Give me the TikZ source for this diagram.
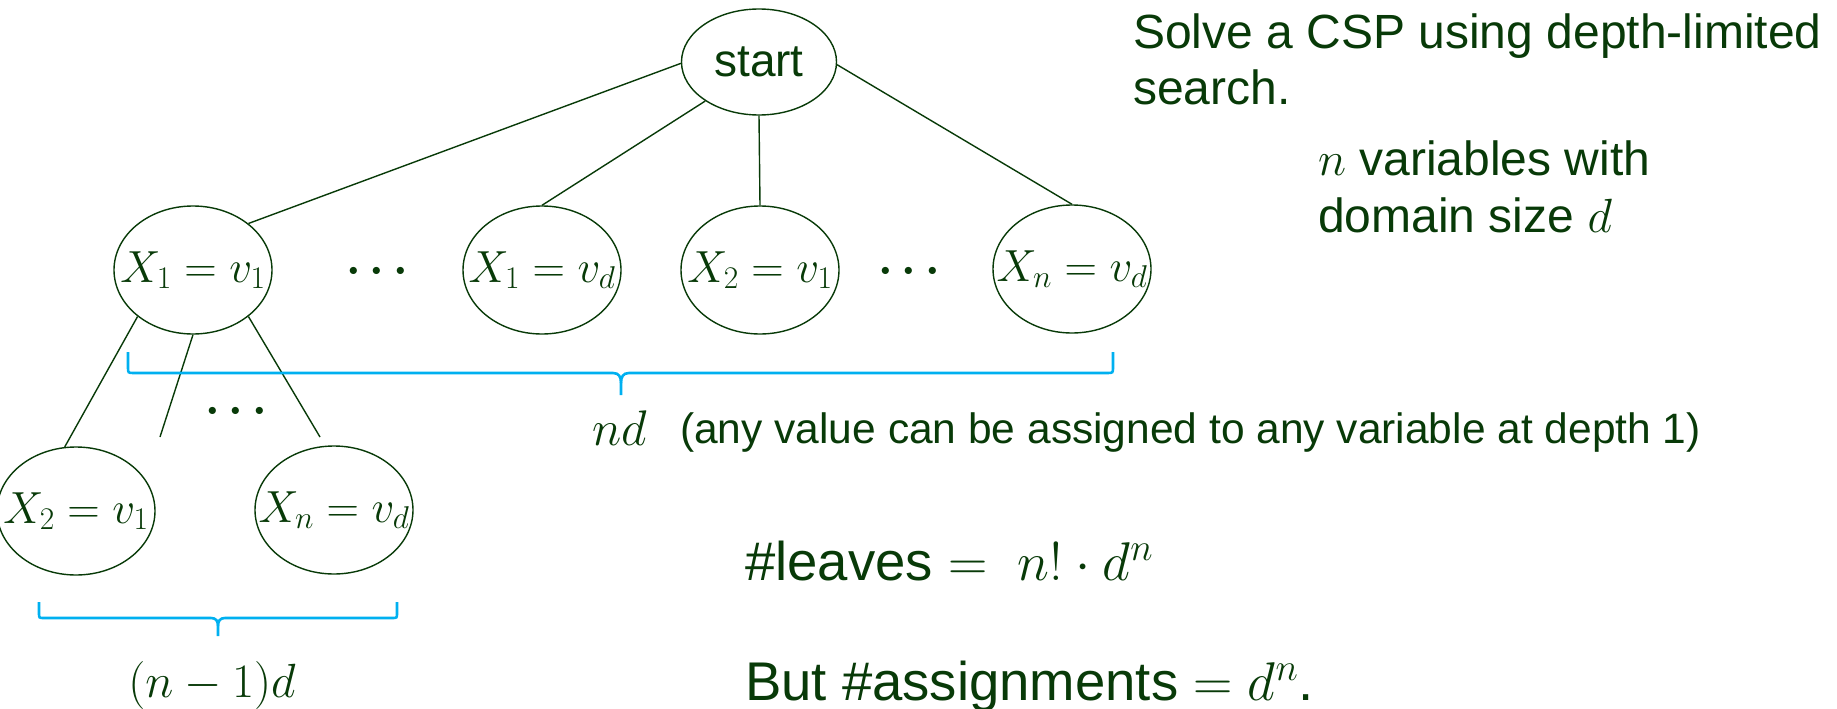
\RequirePackage{fix-cm}
\documentclass[tikz,border=0pt]{standalone}
\usepackage{fontspec}
\setmainfont{Liberation Sans}
\usetikzlibrary{shapes.geometric}
\definecolor{dgreen}{RGB}{8,58,8}
\definecolor{bblue}{RGB}{0,176,240}
\newcommand{\zw}[1]{\makebox[0pt]{#1}}
\tikzset{
  st/.style={ellipse,draw=dgreen,line width=1.4pt,inner sep=0pt,text=dgreen},
  lvl/.style={st,minimum width=158pt,minimum height=128pt,font=\fontsize{45}{52}\selectfont},
  edge/.style={draw=dgreen,line width=1.4pt},
  brc/.style={draw=bblue,line width=2.6pt},
  txt/.style={text=dgreen,inner sep=0pt,anchor=base west,font=\fontsize{48}{56}\selectfont},
  dots/.style={text=dgreen,inner sep=0pt,font=\fontsize{46}{54}\selectfont\boldmath}
}
\begin{document}
\begin{tikzpicture}[x=1pt,y=-1pt]
\useasboundingbox (0,0) rectangle (1837,709);

% nodes
\node[st,minimum width=155pt,minimum height=106pt,font=\fontsize{46}{56}\selectfont] (start) at (759,62) {\zw{start}};
\node[lvl] (x1v1) at (193,270) {\zw{$X_1=v_1$}};
\node[lvl] (x1vd) at (542,270) {\zw{$X_1=v_d$}};
\node[lvl] (x2v1) at (760,270) {\zw{$X_2=v_1$}};
\node[lvl] (xnvd) at (1072,269) {\zw{$X_n=v_d$}};
\node[lvl] (x2v1b) at (76,511) {\zw{$X_2=v_1$}};
\node[lvl] (xnvdb) at (334,510) {\zw{$X_n=v_d$}};

\node[dots] (d1) at (377,272) {$\cdots$};
\node[dots] (d2) at (909,272) {$\cdots$};
\node[dots] (d3) at (236,412) {$\cdots$};

\coordinate (c1) at (160,437);
\coordinate (c2) at (320,437);

% edges
\draw[edge] (start.181) -- (x1v1.40);
\draw[edge] (start.216) -- (x1vd.north);
\draw[edge] (start.south) -- (x2v1.north);
\draw[edge] (start.358) -- (xnvd.north);
\draw[edge] (x1v1.220) -- (x2v1b.100);
\draw[edge] (x1v1.south) -- (c1);
\draw[edge] (x1v1.320) -- (c2);

% braces
\draw[brc] (128,352) -- (128,367) .. controls (128,373) .. (134,373) -- (613,373)
  .. controls (619,373) and (621,377) .. (621,383) -- (621,395);
\draw[brc] (621,383) .. controls (621,377) and (623,373) .. (629,373) -- (1107,373)
  .. controls (1113,373) .. (1113,367) -- (1113,352);
\draw[brc] (39,602) -- (39,613) .. controls (39,618) .. (44,618) -- (211,618)
  .. controls (216,618) and (218,621) .. (218,626) -- (218,636);
\draw[brc] (218,626) .. controls (218,621) and (220,618) .. (225,618) -- (392,618)
  .. controls (397,618) .. (397,613) -- (397,602);

% texts
\node[txt] (t1) at (1133,49) {Solve a CSP using depth-limited};
\node[txt] (t2) at (1133,104) {search.};
\node[txt] (t3) at (1318,175) {$n$ variables with};
\node[txt] (t4) at (1318,232) {domain size $d$};
\node[txt,font=\fontsize{50}{60}\selectfont] (nd) at (592,445) {$nd$};
\node[txt,font=\fontsize{42.5}{50}\selectfont] (note) at (680,443) {(any value can be assigned to any variable at depth 1)};
\node[txt,font=\fontsize{54.5}{64}\selectfont] (leaves) at (745,580) {\#leaves $=$\ \ $n!\cdot d^n$};
\node[txt,font=\fontsize{54.5}{64}\selectfont] (assign) at (745,700) {But \#assignments $= d^n$.};
\node[txt,anchor=base,font=\fontsize{48}{58}\selectfont] (nm1) at (212,697) {$(n-1)d$};
\end{tikzpicture}
\end{document}
